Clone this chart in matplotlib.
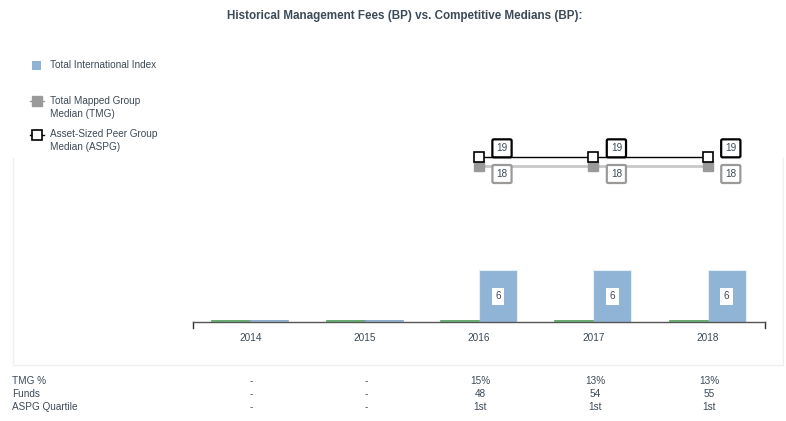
import numpy as np
import matplotlib.pyplot as plt
from matplotlib.lines import Line2D

years = ["2014", "2015", "2016", "2017", "2018"]
fund_fees = [0, 0, 6, 6, 6]
green_series = [0, 0, 0, 0, 0]
tmg_median = [None, None, 18, 18, 18]
aspg_median = [None, None, 19, 19, 19]

row_labels = ["TMG %", "Funds", "ASPG Quartile"]
tmg_pct = ["-", "-", "15%", "13%", "13%"]
funds = ["-", "-", "48", "54", "55"]
aspg_quartile = ["-", "-", "1st", "1st", "1st"]

W, H = 786, 421
txt_color = "#3d4a57"
bar_color = "#8fb4d6"
fs = 7.2

fig = plt.figure(figsize=(W / 100, H / 100), dpi=100)
plt.rcParams['font.family'] = ['Liberation Sans', 'DejaVu Sans']

# axes placed in pixel coordinates: x 193..765, baseline y=322
ax_left, ax_right = 193, 765
ax_bottom, ax_top = 322, 60
ax = fig.add_axes([ax_left / W, 1 - ax_bottom / H,
                   (ax_right - ax_left) / W, (ax_bottom - ax_top) / H])
px_per_unit = 52 / 6
ax.set_ylim(0, (ax_bottom - ax_top) / px_per_unit)
ax.set_xlim(-0.5, len(years) - 0.5)

x = np.arange(len(years))
bw = 38 / ((ax_right - ax_left) / len(years))
ax.bar(x - bw / 2, green_series, width=bw, color="#4e9a5a")
ax.bar(x + bw / 2, fund_fees, width=bw, color=bar_color,
       edgecolor="#e6eef6", linewidth=0.8)
# zero-height bars still show as a thin line on the baseline
for xi, v in zip(x, fund_fees):
    ax.plot([xi - bw, xi], [0.1, 0.1], color="#4e9a5a", lw=1.2, zorder=3)
    if v == 0:
        ax.plot([xi, xi + bw], [0.1, 0.1], color="#7a9bbd", lw=1.2, zorder=3)

for xi, v in zip(x, fund_fees):
    if v:
        ax.text(xi + bw / 2, v / 2, str(v), ha="center", va="center",
                fontsize=fs, color=txt_color,
                bbox=dict(boxstyle="square,pad=0.35", fc="white", ec="none"))

idx = [i for i, v in enumerate(tmg_median) if v is not None]
tmg_vals = [tmg_median[i] for i in idx]
aspg_vals = [aspg_median[i] for i in idx]
ax.plot(idx, tmg_vals, color="#c8c8c8", lw=2, zorder=4)
ax.plot(idx, tmg_vals, ls="none", marker="s", ms=7, color="#9a9a9a", zorder=5)
ax.plot(idx, aspg_vals, color="black", lw=1, zorder=6, marker="s", ms=7,
        mfc="white", mec="black", mew=1.2)

for xi, v in zip(idx, aspg_vals):
    ax.annotate(str(v), (xi, v), xytext=(23, 9), textcoords="offset pixels",
                ha="center", va="center", fontsize=fs, color=txt_color, zorder=7,
                bbox=dict(boxstyle="round,pad=0.4,rounding_size=0.15",
                          fc="white", ec="black", lw=1.6))
for xi, v in zip(idx, tmg_vals):
    ax.annotate(str(v), (xi, v), xytext=(23, -8), textcoords="offset pixels",
                ha="center", va="center", fontsize=fs, color=txt_color, zorder=7,
                bbox=dict(boxstyle="round,pad=0.4,rounding_size=0.15",
                          fc="white", ec="#9a9a9a", lw=1.6))

for s in ["top", "left", "right"]:
    ax.spines[s].set_visible(False)
ax.spines["bottom"].set_color("#555555")
ax.spines["bottom"].set_linewidth(1)
ax.set_yticks([])
ax.set_xticks(x)
ax.set_xticklabels(years, fontsize=fs, color=txt_color)
ax.tick_params(axis="x", length=0, pad=8)
# end ticks of the category axis
for xe in [-0.5, len(years) - 0.5]:
    ax.plot([xe, xe], [0, -0.7], color="#333333", lw=1, clip_on=False)

# title
fig.text(405 / W, 1 - 16 / H, "Historical Management Fees (BP) vs. Competitive Medians (BP):",
         ha="center", va="center", fontsize=8.4, fontweight="bold", color=txt_color)


def fx(px):
    return px / W


def fy(py):
    return 1 - py / H


# legend drawn in figure pixels
fig.patches.append(plt.Rectangle((fx(32), fy(70)), 9 / W, 9 / H, transform=fig.transFigure,
                                 fc=bar_color, ec="none"))
fig.text(fx(50), fy(65), "Total International Index", fontsize=fs, color=txt_color, va="center")
fig.lines.append(Line2D([fx(30), fx(44)], [fy(101), fy(101)], transform=fig.transFigure,
                        color="#9a9a9a", lw=1))
fig.lines.append(Line2D([fx(37)], [fy(101)], transform=fig.transFigure, marker="s", ms=7,
                        color="#9a9a9a", ls="none"))
fig.text(fx(50), fy(101), "Total Mapped Group", fontsize=fs, color=txt_color, va="center")
fig.text(fx(50), fy(114), "Median (TMG)", fontsize=fs, color=txt_color, va="center")
fig.lines.append(Line2D([fx(30), fx(44)], [fy(135), fy(135)], transform=fig.transFigure,
                        color="black", lw=1))
fig.lines.append(Line2D([fx(37)], [fy(135)], transform=fig.transFigure, marker="s", ms=7,
                        mfc="white", mec="black", mew=1.2, ls="none"))
fig.text(fx(50), fy(134), "Asset-Sized Peer Group", fontsize=fs, color=txt_color, va="center")
fig.text(fx(50), fy(147), "Median (ASPG)", fontsize=fs, color=txt_color, va="center")

# faint frame around the chart
frame = "#efefef"
fig.lines.append(Line2D([fx(13), fx(13), fx(783), fx(783)], [fy(158), fy(365), fy(365), fy(158)],
                        transform=fig.transFigure, color=frame, lw=1))

# data table under the chart
rows = [tmg_pct, funds, aspg_quartile]
col_px = [251, 366, 480, 595, 709]
for r, (label, vals) in enumerate(zip(row_labels, rows)):
    yy = fy(381 + 13 * r)
    fig.text(fx(12), yy, label, fontsize=fs, color=txt_color, va="center")
    for cx, v in zip(col_px, vals):
        fig.text(fx(cx), yy, v, fontsize=fs, color=txt_color, va="center", ha="center")

fig.savefig("out.png", dpi=100)
